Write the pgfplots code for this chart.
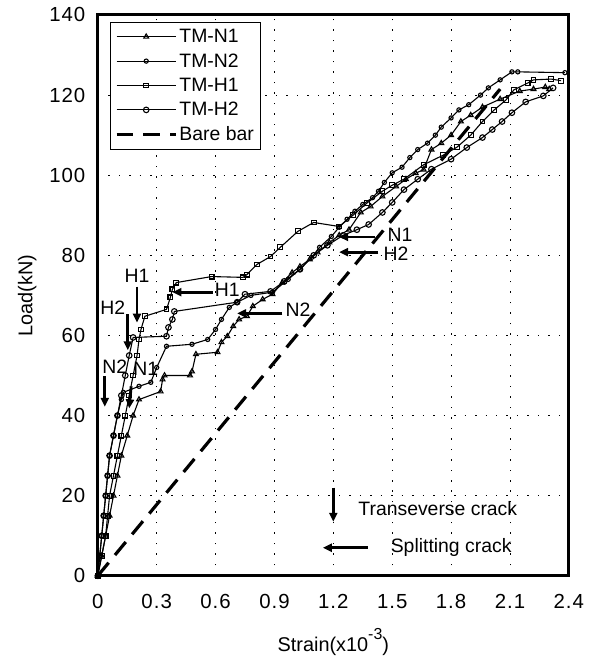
\documentclass[border=0pt]{standalone}
\usepackage{pgfplots}
\pgfplotsset{compat=1.18}
\usepackage{fontspec}
\setmainfont{Liberation Sans}
\usetikzlibrary{arrows.meta}
\begin{document}
\begin{tikzpicture}[font=\fontsize{19.5}{22}\selectfont]
\begin{axis}[
  scale only axis, width=472bp, height=562bp,
  xmin=0, xmax=2.4, ymin=0, ymax=140,
  xtick={0,0.3,...,2.4}, ytick={0,20,...,140},
  xticklabels={0,0.3,0.6,0.9,1.2,1.5,1.8,2.1,2.4},
  /pgf/number format/assume math mode=true,
  tick label style={font=\fontsize{20.5}{22}\selectfont\addfontfeature{LetterSpace=5}},
  major tick length=0pt,
  xtick pos=bottom, ytick pos=left,
  xticklabel style={yshift=-15bp},
  yticklabel style={xshift=-9bp},
  axis line style={line width=3bp},
  grid=major,
  major grid style={black, line width=0.8bp, dash pattern=on 1.5bp off 9bp},
  xlabel={Strain(x10\raisebox{0.6em}{\fontsize{16}{18}\selectfont -3})},
  ylabel={Load(kN)},
  xlabel style={font=\fontsize{20}{22}\selectfont, yshift=-13bp},
  ylabel style={font=\fontsize{20}{22}\selectfont, yshift=6bp},
  legend style={at={(rel axis cs:0.025,0.9875)}, anchor=north west,
    draw=black, line width=0.7bp, font=\fontsize{19.5}{22}\selectfont,
    row sep=5.5bp, inner xsep=5bp, inner ysep=5bp, fill=white},
  legend cell align=left,
  legend image code/.code={%
    \draw[mark repeat=2,mark phase=2,#1] plot coordinates {(0cm,0cm) (1.05cm,0cm) (2.1cm,0cm)};},
  every axis plot/.append style={line width=1.1bp, black},
]
% TM-N1 (triangles)
\addplot[mark=triangle, mark size=2.8bp, mark options={solid, line width=1.1bp}] coordinates {
(0,0) (0.02,5) (0.04,10) (0.06,15) (0.08,20) (0.1,25) (0.12,30) (0.15,35) (0.18,40) (0.21,44)
(0.32,46) (0.33,49) (0.34,50) (0.47,50) (0.48,51) (0.5,55.3) (0.61,55.8) (0.63,58.3) (0.66,59.8)
(0.69,62.3) (0.72,64) (0.76,64.8) (0.79,67.3) (0.84,69) (0.89,70.3) (0.94,73.2) (0.99,75.7)
(1.03,77.2) (1.08,79) (1.12,80.7) (1.18,83.2) (1.23,85) (1.28,86.4) (1.34,90.7) (1.39,92.2)
(1.45,94.7) (1.52,97.2) (1.57,99) (1.62,100.5) (1.66,101.4) (1.7,106.4) (1.75,108) (1.8,110) (1.85,113.4)
(1.9,115) (1.96,117) (2.05,119) (2.15,121) (2.22,121.5) (2.28,122) (2.3,121.5)};
\addlegendentry{TM-N1}
% TM-N2 (small circles)
\addplot[mark=o, mark size=2.1bp, mark options={solid, line width=1.1bp}] coordinates {
(0,0) (0.01,5) (0.02,10) (0.03,15) (0.04,20) (0.05,25) (0.06,30) (0.08,35) (0.1,40) (0.12,44)
(0.13,45.8) (0.21,47.3) (0.27,48.3) (0.3,52) (0.35,57.3) (0.48,57.8) (0.56,59) (0.6,61.5)
(0.63,64) (0.67,67) (0.71,68.3) (0.78,70) (0.89,70.8) (0.97,74) (1.03,76.5) (1.09,79.5)
(1.13,82) (1.19,84.7) (1.23,87) (1.27,89) (1.31,91) (1.35,92.7) (1.4,94.4) (1.43,96)
(1.46,98.2) (1.5,100.6) (1.55,102) (1.59,104.4) (1.63,106.4) (1.68,108) (1.72,110) (1.75,112)
(1.8,114.3) (1.84,116.3) (1.89,117.6) (1.95,120) (1.99,121.8) (2.05,123.8) (2.11,125.8)
(2.14,125.8) (2.38,125.6)};
\addlegendentry{TM-N2}
% TM-H1 (squares)
\addplot[mark=square, mark size=2.4bp, mark options={solid, line width=1.1bp}] coordinates {
(0,0) (0.02,5) (0.04,10) (0.05,15) (0.06,20) (0.08,25) (0.1,30) (0.12,35) (0.14,40) (0.16,45)
(0.18,50) (0.2,55) (0.21,59) (0.22,61.5) (0.24,64.8) (0.35,66.5) (0.37,69.5) (0.38,71.5)
(0.4,73.2) (0.58,74.7) (0.74,74.5) (0.76,75.2) (0.81,77.7) (0.88,79.7) (0.93,82) (1.02,86)
(1.1,88.2) (1.23,87.2) (1.3,90) (1.37,93) (1.45,96) (1.5,97.5) (1.56,99) (1.66,102.6)
(1.76,105) (1.83,107) (1.9,110) (1.96,113.4) (2.02,116.3) (2.08,118.8) (2.12,121.3)
(2.19,123) (2.22,123.8) (2.31,124) (2.36,123.6)};
\addlegendentry{TM-H1}
% TM-H2 (circles)
\addplot[mark=o, mark size=2.8bp, mark options={solid, line width=1.1bp}] coordinates {
(0,0) (0.01,5) (0.02,10) (0.03,15) (0.04,20) (0.05,25) (0.06,30) (0.08,35) (0.1,40) (0.12,45)
(0.14,50) (0.16,55) (0.18,59.5) (0.35,59.8) (0.36,62) (0.38,64) (0.39,66) (0.71,68.3)
(0.75,70.3) (0.88,71) (0.95,73.5) (1.03,76.5) (1.1,80) (1.17,82.5) (1.25,85) (1.32,86.4)
(1.38,87.7) (1.45,90.7) (1.5,93.2) (1.56,96.4) (1.63,99) (1.7,101.5) (1.8,104) (1.88,106.9)
(1.96,109.4) (2.01,111.4) (2.06,113.4) (2.11,115.6) (2.18,118.3) (2.27,119.8) (2.32,121.8)};
\addlegendentry{TM-H2}
% Bare bar
\addplot[dash pattern=on 17bp off 10bp, line width=3.2bp] coordinates {(0,0) (2.05,121.5)};
\addlegendentry{Bare bar\hspace{14bp}}

% annotations
\begin{scope}[line width=2.8bp, -{Triangle[length=9bp,width=8bp]}]
\draw (axis cs:0.2,72.2) -- (axis cs:0.2,63.2);
\draw (axis cs:0.153,65.3) -- (axis cs:0.153,56.3);
\draw (axis cs:0.036,49.8) -- (axis cs:0.036,42.2);
\draw (axis cs:0.17,47.3) -- (axis cs:0.16,41.8);
\draw (axis cs:0.586,70.8) -- (axis cs:0.38,70.8);
\draw (axis cs:0.94,65.5) -- (axis cs:0.71,65.5);
\draw (axis cs:1.41,84.6) -- (axis cs:1.23,84.6);
\draw (axis cs:1.43,80.8) -- (axis cs:1.23,80.8);
\draw (axis cs:1.2,22) -- (axis cs:1.2,13.5);
\draw (axis cs:1.376,7) -- (axis cs:1.147,7);
\end{scope}
\node at (axis cs:0.2,74.8) {H1};
\node at (axis cs:0.076,66.8) {H2};
\node at (axis cs:0.087,52.3) {N2};
\node at (axis cs:0.245,51.6) {N1};
\node at (axis cs:0.66,71.3) {H1};
\node at (axis cs:1.02,66.5) {N2};
\node[inner sep=0pt] at (axis cs:1.54,85.0) {N1};
\node[inner sep=0pt] at (axis cs:1.52,80.3) {H2};
\node[anchor=west] at (axis cs:1.31,16.9) {Transeverse crack};
\node[anchor=west] at (axis cs:1.475,7) {Splitting crack};
\coordinate (SW) at (rel axis cs:0,0);
\coordinate (NE) at (rel axis cs:1,1);
\end{axis}
\path ([xshift=-98bp,yshift=-82bp]SW) rectangle ([xshift=27bp,yshift=15bp]NE);
\end{tikzpicture}
\end{document}
